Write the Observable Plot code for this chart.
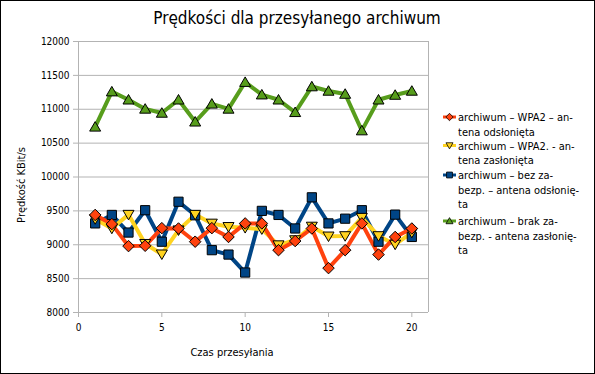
<!DOCTYPE html>
<html><head><meta charset="utf-8">
<script src="https://cdn.jsdelivr.net/npm/d3@7"></script>
<script src="https://cdn.jsdelivr.net/npm/@observablehq/plot@0.6"></script>
<style>
body{margin:0;background:#fff}
#chart svg{display:block}
</style>
</head><body><div id="chart"></div>
<script>
const FONT = '"DejaVu Sans Condensed", "DejaVu Sans", sans-serif';
const times = [1,2,3,4,5,6,7,8,9,10,11,12,13,14,15,16,17,18,19,20];
const seriesNames = [
  "archiwum – WPA2 – antena odsłonięta",
  "archiwum – WPA2. - antena zasłonięta",
  "archiwum – bez zabezp. – antena odsłonięta",
  "archiwum – brak zabezp. - antena zasłonięta"
];
const legendLines = [
  ["archiwum – WPA2 – an-", "tena odsłonięta"],
  ["archiwum – WPA2. - an-", "tena zasłonięta"],
  ["archiwum – bez za-", "bezp. – antena odsłonię-", "ta"],
  ["archiwum – brak za-", "bezp. - antena zasłonię-", "ta"]
];
const wpa2Odsl = [9440,9305,8980,8985,9245,9240,9045,9245,9115,9315,9315,8920,9055,9240,8655,8920,9315,8855,9115,9240];
const wpa2Zasl = [9380,9240,9445,9015,8860,9215,9445,9315,9265,9250,9230,8995,9070,9270,9125,9130,9400,9130,9005,9180];
const bezOdsl  = [9315,9440,9180,9510,9045,9635,9435,8920,8855,8590,9500,9440,9240,9700,9315,9385,9510,9045,9445,9115];
const brakZasl = [10740,11260,11140,11005,10945,11140,10815,11080,11005,11400,11215,11140,10955,11335,11270,11225,10685,11140,11210,11270];
const xTicks = [0,5,10,15,20];
const yTicks = [8000,8500,9000,9500,10000,10500,11000,11500,12000];
const colors = ["#ff420e","#ffd320","#004586","#579d1c"];
const title = "Prędkości dla przesyłanego archiwum";
const xLabel = "Czas przesyłania";
const yLabel = "Prędkość KBit/s";

function rFrom(size){ return Math.sqrt(size/Math.PI); }
const diamond = {draw(c,size){const r=rFrom(size)*1.15;c.moveTo(0,-r);c.lineTo(r,0);c.lineTo(0,r);c.lineTo(-r,0);c.closePath();}};
const triDown = {draw(c,size){const r=rFrom(size);c.moveTo(-r*1.1,-r*0.85);c.lineTo(r*1.1,-r*0.85);c.lineTo(0,r*1.05);c.closePath();}};
const square = {draw(c,size){const r=rFrom(size)*0.92;c.rect(-r,-r,2*r,2*r);}};
const triUp = {draw(c,size){const r=rFrom(size);c.moveTo(-r*1.1,r*0.85);c.lineTo(r*1.1,r*0.85);c.lineTo(0,-r*1.05);c.closePath();}};
const symbols = [diamond, triDown, square, triUp];
const allValues = [wpa2Odsl, wpa2Zasl, bezOdsl, brakZasl];

const data = [];
allValues.forEach((vals,si)=>vals.forEach((v,i)=>data.push({series:seriesNames[si], si, t:times[i], v})));

const drawOrder = [3,2,1,0];
const marks = [
  Plot.ruleY(yTicks, {stroke:"#b3b3b3", strokeWidth:1}),
  Plot.ruleX([0,21], {stroke:"#b3b3b3", strokeWidth:1}),
  Plot.axisY({ticks:yTicks, tickSize:5, tickPadding:4, stroke:"#b3b3b3", fill:"black", label:null, tickFormat:d=>String(d), fontSize:10}),
  Plot.axisX({ticks:xTicks, tickSize:5, tickPadding:6, stroke:"#b3b3b3", fill:"black", label:null, fontSize:10}),
];
for (const si of drawOrder){
  const d = data.filter(e=>e.si===si);
  marks.push(Plot.line(d, {x:"t", y:"v", stroke:colors[si], strokeWidth:4, strokeLinejoin:"round"}));
}
for (const si of drawOrder){
  const d = data.filter(e=>e.si===si);
  marks.push(Plot.dot(d, {x:"t", y:"v", symbol:()=>symbols[si], fill:colors[si], stroke:"black", strokeWidth:1, r:5}));
}

const plot = Plot.plot({
  width:595, height:374,
  marginLeft:78, marginRight:167, marginTop:41, marginBottom:62,
  x:{domain:[0,21]},
  y:{domain:[8000,12000]},
  symbol:{type:"identity"},
  style:{fontFamily:FONT, fontSize:"10px", background:"white", color:"black"},
  marks
});
document.getElementById("chart").appendChild(plot);

const svg = d3.select(plot);
svg.append("rect").attr("x",0.5).attr("y",0.5).attr("width",594).attr("height",373)
  .attr("fill","none").attr("stroke","black").attr("stroke-width",1);
svg.append("text").attr("x",297).attr("y",24).attr("text-anchor","middle")
  .attr("font-family",FONT).attr("font-size",17).attr("fill","black").text(title);
svg.append("text").attr("x",232).attr("y",356).attr("text-anchor","middle")
  .attr("font-family",FONT).attr("font-size",11).attr("fill","black").text(xLabel);
svg.append("text").attr("transform","translate(25,185) rotate(-90)").attr("text-anchor","middle")
  .attr("font-family",FONT).attr("font-size",11).attr("fill","black").text(yLabel);

const lg = svg.append("g");
legendLines.forEach((lines, si)=>{
  const y0 = 121 + [0,28.5,58,104][si];
  lg.append("line").attr("x1",443).attr("x2",456).attr("y1",y0-4).attr("y2",y0-4)
    .attr("stroke",colors[si]).attr("stroke-width",3);
  const sz = 3.2;
  const p = d3.path(); symbols[si].draw(p, sz*sz*Math.PI);
  lg.append("path").attr("d",p.toString()).attr("transform",`translate(449.5,${y0-4})`)
    .attr("fill",colors[si]).attr("stroke","black").attr("stroke-width",0.8);
  const t = lg.append("text").attr("font-family",FONT).attr("font-size",11).attr("fill","black")
    .attr("text-anchor","start");
  lines.forEach((ln,li)=>t.append("tspan").attr("x",458).attr("y",y0 + li*14.6).attr("text-anchor","start").text(ln));
});
</script>
</body></html>
